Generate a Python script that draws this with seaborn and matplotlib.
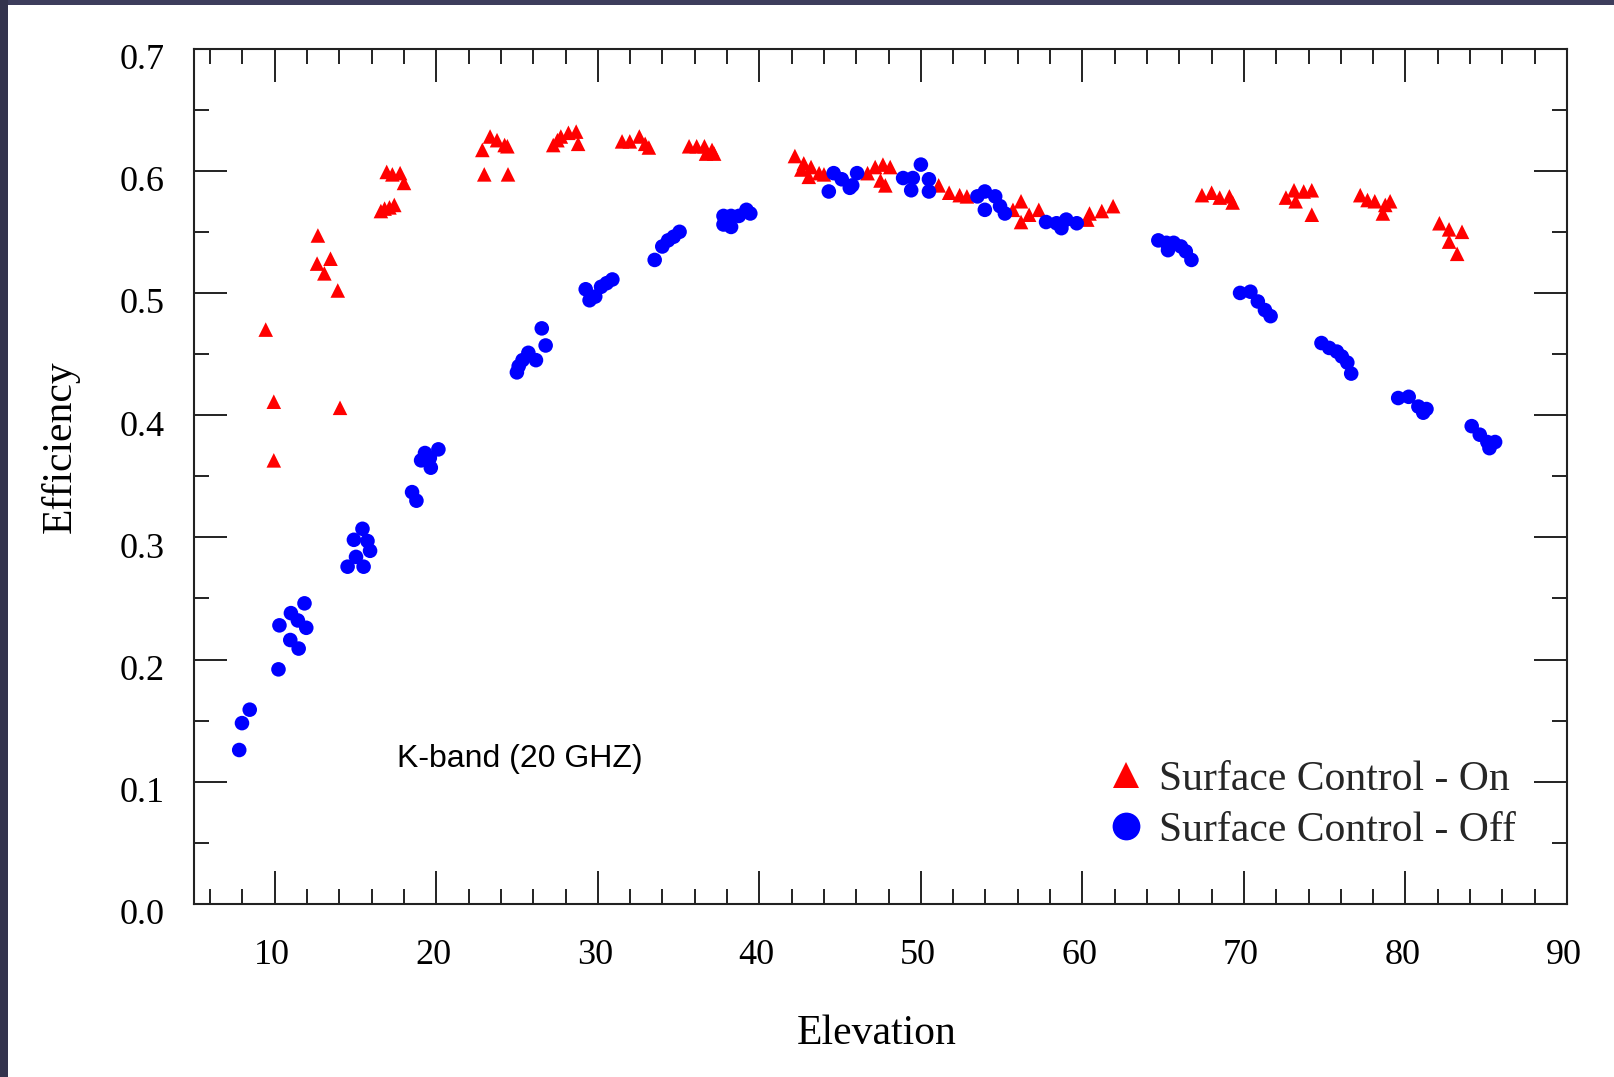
import numpy as np
import pandas as pd
import matplotlib
matplotlib.use("Agg")
import matplotlib.pyplot as plt
from matplotlib.lines import Line2D
from matplotlib.patches import Rectangle
from matplotlib.ticker import MultipleLocator
from matplotlib.transforms import ScaledTranslation
import seaborn as sns

# ---------------- data ----------------
on_x = [9.44, 9.94, 9.94,
        12.67, 12.62, 13.45, 13.07, 13.90, 14.04,
        16.57, 16.80, 17.10, 17.40, 16.93, 17.28, 17.76, 18.00,
        22.85, 23.33, 23.76, 24.23, 24.40, 22.97, 24.44,
        27.24, 27.50, 27.71, 28.18, 28.66, 28.78,
        31.50, 31.98, 32.57, 32.93, 33.16,
        35.65, 36.12, 36.60, 37.07, 36.70, 37.20,
        42.20, 42.75, 43.20, 42.60, 43.06, 43.70, 44.00,
        46.70, 47.17, 47.65, 48.10, 47.80, 47.50,
        51.10, 51.75, 52.40, 52.85,
        55.70, 56.20, 56.70, 57.30, 56.20,
        60.30, 60.44, 61.20, 61.90,
        67.40, 68.00, 68.50, 69.10, 69.30,
        72.60, 73.10, 73.70, 74.20, 74.20, 73.20,
        77.20, 77.65, 78.10, 78.75, 78.60, 79.05,
        82.10, 82.70, 83.50, 82.70, 83.20]
on_y = [0.470, 0.411, 0.363,
        0.547, 0.524, 0.528, 0.516, 0.502, 0.406,
        0.567, 0.569, 0.570, 0.572, 0.599, 0.597, 0.598, 0.590,
        0.617, 0.628, 0.625, 0.621, 0.620, 0.597, 0.597,
        0.621, 0.625, 0.628, 0.631, 0.632, 0.622,
        0.624, 0.624, 0.628, 0.622, 0.619,
        0.620, 0.620, 0.620, 0.617, 0.614, 0.614,
        0.612, 0.606, 0.603, 0.601, 0.595, 0.598, 0.597,
        0.598, 0.603, 0.605, 0.603, 0.588, 0.592,
        0.588, 0.582, 0.580, 0.579,
        0.568, 0.575, 0.564, 0.568, 0.558,
        0.560, 0.565, 0.567, 0.571,
        0.580, 0.582, 0.578, 0.579, 0.574,
        0.578, 0.584, 0.583, 0.584, 0.564, 0.575,
        0.580, 0.576, 0.575, 0.572, 0.565, 0.575,
        0.557, 0.552, 0.550, 0.542, 0.532]

off_x = [7.80, 7.97, 8.45,
         10.23, 10.29, 11.00, 10.96, 11.48, 11.43, 11.95, 11.84,
         14.51, 15.03, 15.50, 14.90, 15.43, 15.74, 15.90,
         18.50, 18.77, 19.06, 19.30, 19.66, 19.60, 20.13,
         24.99, 25.10, 25.34, 25.70, 26.17, 26.77, 26.53,
         29.25, 29.49, 29.84, 30.20, 30.55, 30.90,
         33.52, 33.99, 34.35, 34.70, 35.06,
         37.78, 37.78, 38.25, 38.25, 38.73, 39.20, 39.44,
         44.30, 44.60, 45.10, 45.60, 46.05, 45.75,
         48.90, 49.50, 50.00, 50.50, 49.40, 50.50,
         53.50, 53.96, 54.60, 53.96, 54.90, 55.20,
         57.75, 58.40, 59.00, 59.65, 58.70,
         64.70, 65.20, 65.65, 66.10, 66.40, 66.75, 65.30,
         69.76, 70.40, 70.86, 71.30, 71.65,
         74.80, 75.28, 75.75, 76.06, 76.40, 76.64,
         79.55, 80.20, 80.80, 81.10, 81.30,
         84.10, 84.60, 85.07, 85.55, 85.20]
off_y = [0.126, 0.148, 0.159,
         0.192, 0.228, 0.238, 0.216, 0.209, 0.232, 0.226, 0.246,
         0.276, 0.284, 0.276, 0.298, 0.307, 0.297, 0.289,
         0.337, 0.330, 0.363, 0.369, 0.357, 0.365, 0.372,
         0.435, 0.440, 0.445, 0.451, 0.445, 0.457, 0.471,
         0.503, 0.494, 0.497, 0.505, 0.508, 0.511,
         0.527, 0.538, 0.543, 0.546, 0.550,
         0.563, 0.556, 0.554, 0.563, 0.563, 0.568, 0.565,
         0.583, 0.598, 0.593, 0.586, 0.598, 0.588,
         0.594, 0.594, 0.605, 0.593, 0.584, 0.583,
         0.579, 0.583, 0.579, 0.568, 0.571, 0.565,
         0.558, 0.557, 0.560, 0.557, 0.553,
         0.543, 0.541, 0.541, 0.538, 0.534, 0.527, 0.535,
         0.500, 0.501, 0.493, 0.486, 0.481,
         0.459, 0.455, 0.452, 0.448, 0.443, 0.434,
         0.414, 0.415, 0.407, 0.402, 0.405,
         0.391, 0.384, 0.378, 0.378, 0.373]

series_labels = ["Surface Control - On", "Surface Control - Off"]
x_ticks = [10, 20, 30, 40, 50, 60, 70, 80, 90]
y_ticks = [0.0, 0.1, 0.2, 0.3, 0.4, 0.5, 0.6, 0.7]

df = pd.concat([
    pd.DataFrame({"Elevation": on_x, "Efficiency": on_y, "series": series_labels[0]}),
    pd.DataFrame({"Elevation": off_x, "Efficiency": off_y, "series": series_labels[1]}),
], ignore_index=True)

# ---------------- style ----------------
sns.set_theme(style="ticks")
plt.rcParams["font.family"] = ["Liberation Serif", "DejaVu Serif"]

W, H = 1615, 1077
fig = plt.figure(figsize=(W / 100, H / 100), dpi=100)
fig.patch.set_facecolor("white")

# dark frame strips on top and left
fig.patches.append(Rectangle((0, 1 - 5 / H), 1, 5 / H, transform=fig.transFigure,
                             facecolor="#3d3d5c", edgecolor="none", zorder=0))
fig.patches.append(Rectangle((0, 0), 8 / W, 1, transform=fig.transFigure,
                             facecolor="#33334d", edgecolor="none", zorder=0))

ax = fig.add_axes([194 / W, 1 - 904 / H, (1567 - 194) / W, (904 - 48.5) / H])

palette = {series_labels[0]: "#ff0000", series_labels[1]: "#0000ff"}
markers = {series_labels[0]: "^", series_labels[1]: "o"}
sns.scatterplot(data=df, x="Elevation", y="Efficiency", hue="series", style="series",
                palette=palette, markers=markers, s=110, linewidth=0,
                legend=False, ax=ax, zorder=3)

ax.set_xlim(5, 90)
ax.set_ylim(0, 0.7)
ax.set_xticks(x_ticks)
ax.set_xticklabels([str(v) for v in x_ticks])
ax.set_yticks(y_ticks)
ax.set_yticklabels([f"{v:.1f}" for v in y_ticks])
ax.xaxis.set_minor_locator(MultipleLocator(2))
ax.yaxis.set_minor_locator(MultipleLocator(0.05))

for sp in ax.spines.values():
    sp.set_visible(True)
    sp.set_linewidth(1.5)
    sp.set_color("#222222")

ax.tick_params(which="both", direction="in", top=True, right=True,
               colors="#222222", width=1.4)
ax.tick_params(which="major", length=23.5)
ax.tick_params(which="minor", length=10.8)
ax.tick_params(axis="x", which="major", labelsize=26, pad=25, labelcolor="black")
ax.tick_params(axis="y", which="major", labelsize=26, pad=21, labelcolor="black")

# small offsets of the tick labels as in the original rendering
for lbl in ax.get_yticklabels():
    lbl.set_transform(lbl.get_transform() + ScaledTranslation(0, -8 / 100, fig.dpi_scale_trans))
for lbl in ax.get_xticklabels():
    lbl.set_transform(lbl.get_transform() + ScaledTranslation(-3 / 100, 0, fig.dpi_scale_trans))

ax.set_xlabel("Elevation", fontsize=30, color="black", va="center")
ax.set_ylabel("Efficiency", fontsize=30, color="black", va="center")
ax.xaxis.set_label_coords(0.497, (904 - 1034) / 855.5)
ax.yaxis.set_label_coords((60 - 194) / 1373, 0.534)

ax.text(17.55, 0.119, "K-band (20 GHZ)", fontsize=23, va="center", ha="left",
        family=["Liberation Sans", "DejaVu Sans"], color="black")

handles = [Line2D([], [], linestyle="none", marker="^", markersize=19,
                  markerfacecolor="#ff0000", markeredgewidth=0),
           Line2D([], [], linestyle="none", marker="o", markersize=20,
                  markerfacecolor="#0000ff", markeredgewidth=0)]
ax.legend(handles, series_labels, loc="center left", bbox_to_anchor=(0.6635, 0.1158),
          frameon=False, fontsize=30, handlelength=1.0, handletextpad=0.3,
          labelspacing=0.3, borderpad=0, borderaxespad=0)

fig.savefig("out.png", dpi=100, facecolor="white")
